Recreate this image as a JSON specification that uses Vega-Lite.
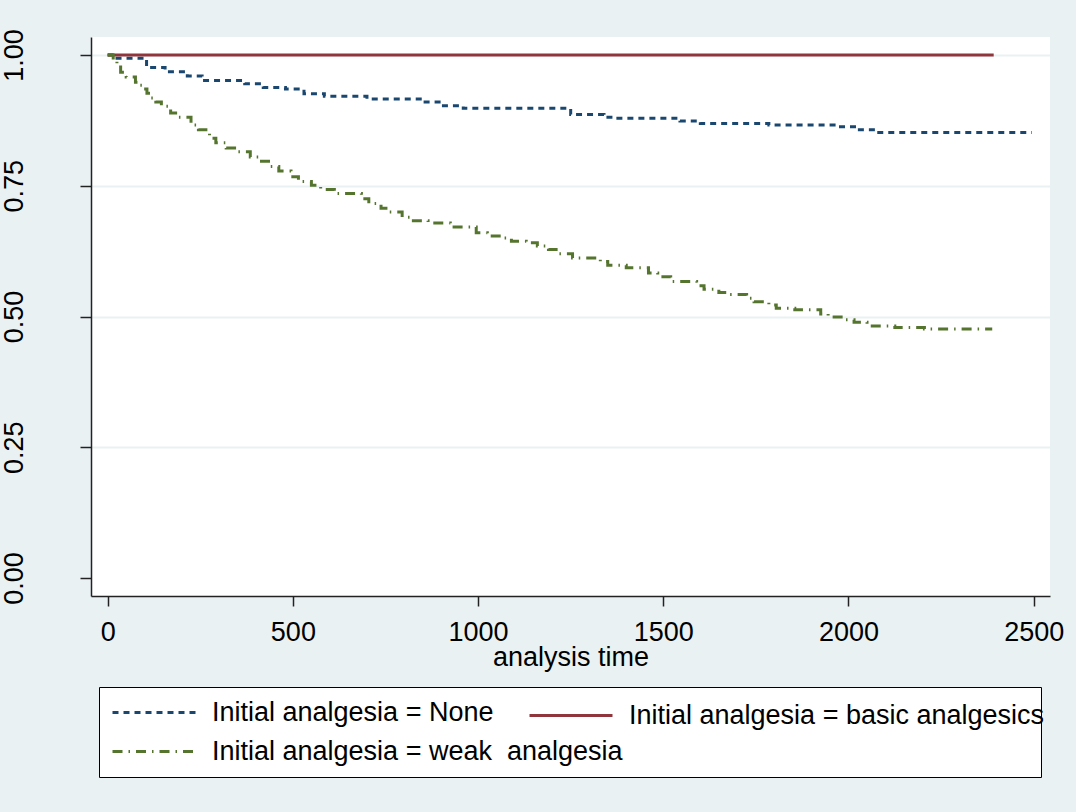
{
  "$schema": "https://vega.github.io/schema/vega-lite/v6.json",
  "width": 959,
  "height": 559,
  "autosize": {"type": "none"},
  "padding": {"left": 91, "top": 37, "right": 26, "bottom": 216},
  "background": "#EAF1F3",
  "config": {
    "view": {"fill": "white", "stroke": null},
    "font": "Liberation Sans"
  },
  "data": {
    "values": [
      {"group": "Initial analgesia = None", "time": 0, "survival": 1.0},
      {"group": "Initial analgesia = None", "time": 20, "survival": 0.994},
      {"group": "Initial analgesia = None", "time": 105, "survival": 0.976},
      {"group": "Initial analgesia = None", "time": 155, "survival": 0.968},
      {"group": "Initial analgesia = None", "time": 215, "survival": 0.96},
      {"group": "Initial analgesia = None", "time": 255, "survival": 0.951},
      {"group": "Initial analgesia = None", "time": 370, "survival": 0.945},
      {"group": "Initial analgesia = None", "time": 420, "survival": 0.938},
      {"group": "Initial analgesia = None", "time": 480, "survival": 0.935},
      {"group": "Initial analgesia = None", "time": 530, "survival": 0.926},
      {"group": "Initial analgesia = None", "time": 585, "survival": 0.921},
      {"group": "Initial analgesia = None", "time": 700, "survival": 0.916},
      {"group": "Initial analgesia = None", "time": 850, "survival": 0.91},
      {"group": "Initial analgesia = None", "time": 900, "survival": 0.903},
      {"group": "Initial analgesia = None", "time": 960, "survival": 0.898},
      {"group": "Initial analgesia = None", "time": 1250, "survival": 0.886},
      {"group": "Initial analgesia = None", "time": 1340, "survival": 0.881},
      {"group": "Initial analgesia = None", "time": 1365, "survival": 0.879},
      {"group": "Initial analgesia = None", "time": 1545, "survival": 0.874},
      {"group": "Initial analgesia = None", "time": 1600, "survival": 0.869},
      {"group": "Initial analgesia = None", "time": 1785, "survival": 0.866},
      {"group": "Initial analgesia = None", "time": 1970, "survival": 0.863},
      {"group": "Initial analgesia = None", "time": 2025, "survival": 0.857},
      {"group": "Initial analgesia = None", "time": 2075, "survival": 0.852},
      {"group": "Initial analgesia = None", "time": 2495, "survival": 0.852},

      {"group": "Initial analgesia = basic analgesics", "time": 0, "survival": 1.0},
      {"group": "Initial analgesia = basic analgesics", "time": 2392, "survival": 1.0},

      {"group": "Initial analgesia = weak\u00a0 analgesia", "time": 0, "survival": 1.0},
      {"group": "Initial analgesia = weak\u00a0 analgesia", "time": 15, "survival": 0.99},
      {"group": "Initial analgesia = weak\u00a0 analgesia", "time": 25, "survival": 0.98},
      {"group": "Initial analgesia = weak\u00a0 analgesia", "time": 35, "survival": 0.967},
      {"group": "Initial analgesia = weak\u00a0 analgesia", "time": 50, "survival": 0.958},
      {"group": "Initial analgesia = weak\u00a0 analgesia", "time": 75, "survival": 0.948},
      {"group": "Initial analgesia = weak\u00a0 analgesia", "time": 85, "survival": 0.942},
      {"group": "Initial analgesia = weak\u00a0 analgesia", "time": 98, "survival": 0.935},
      {"group": "Initial analgesia = weak\u00a0 analgesia", "time": 106, "survival": 0.927},
      {"group": "Initial analgesia = weak\u00a0 analgesia", "time": 115, "survival": 0.918},
      {"group": "Initial analgesia = weak\u00a0 analgesia", "time": 130, "survival": 0.91},
      {"group": "Initial analgesia = weak\u00a0 analgesia", "time": 145, "survival": 0.902},
      {"group": "Initial analgesia = weak\u00a0 analgesia", "time": 170, "survival": 0.889},
      {"group": "Initial analgesia = weak\u00a0 analgesia", "time": 190, "survival": 0.881},
      {"group": "Initial analgesia = weak\u00a0 analgesia", "time": 225, "survival": 0.866},
      {"group": "Initial analgesia = weak\u00a0 analgesia", "time": 245, "survival": 0.857},
      {"group": "Initial analgesia = weak\u00a0 analgesia", "time": 275, "survival": 0.841},
      {"group": "Initial analgesia = weak\u00a0 analgesia", "time": 292, "survival": 0.832},
      {"group": "Initial analgesia = weak\u00a0 analgesia", "time": 320, "survival": 0.822},
      {"group": "Initial analgesia = weak\u00a0 analgesia", "time": 350, "survival": 0.815},
      {"group": "Initial analgesia = weak\u00a0 analgesia", "time": 385, "survival": 0.805},
      {"group": "Initial analgesia = weak\u00a0 analgesia", "time": 410, "survival": 0.797},
      {"group": "Initial analgesia = weak\u00a0 analgesia", "time": 440, "survival": 0.787},
      {"group": "Initial analgesia = weak\u00a0 analgesia", "time": 462, "survival": 0.778},
      {"group": "Initial analgesia = weak\u00a0 analgesia", "time": 495, "survival": 0.767},
      {"group": "Initial analgesia = weak\u00a0 analgesia", "time": 515, "survival": 0.758},
      {"group": "Initial analgesia = weak\u00a0 analgesia", "time": 550, "survival": 0.751},
      {"group": "Initial analgesia = weak\u00a0 analgesia", "time": 575, "survival": 0.743},
      {"group": "Initial analgesia = weak\u00a0 analgesia", "time": 612, "survival": 0.735},
      {"group": "Initial analgesia = weak\u00a0 analgesia", "time": 685, "survival": 0.725},
      {"group": "Initial analgesia = weak\u00a0 analgesia", "time": 705, "survival": 0.716},
      {"group": "Initial analgesia = weak\u00a0 analgesia", "time": 738, "survival": 0.707},
      {"group": "Initial analgesia = weak\u00a0 analgesia", "time": 760, "survival": 0.7},
      {"group": "Initial analgesia = weak\u00a0 analgesia", "time": 795, "survival": 0.69},
      {"group": "Initial analgesia = weak\u00a0 analgesia", "time": 815, "survival": 0.683},
      {"group": "Initial analgesia = weak\u00a0 analgesia", "time": 865, "survival": 0.679},
      {"group": "Initial analgesia = weak\u00a0 analgesia", "time": 925, "survival": 0.671},
      {"group": "Initial analgesia = weak\u00a0 analgesia", "time": 995, "survival": 0.66},
      {"group": "Initial analgesia = weak\u00a0 analgesia", "time": 1025, "survival": 0.654},
      {"group": "Initial analgesia = weak\u00a0 analgesia", "time": 1065, "survival": 0.65},
      {"group": "Initial analgesia = weak\u00a0 analgesia", "time": 1090, "survival": 0.644},
      {"group": "Initial analgesia = weak\u00a0 analgesia", "time": 1130, "survival": 0.641},
      {"group": "Initial analgesia = weak\u00a0 analgesia", "time": 1160, "survival": 0.635},
      {"group": "Initial analgesia = weak\u00a0 analgesia", "time": 1190, "survival": 0.628},
      {"group": "Initial analgesia = weak\u00a0 analgesia", "time": 1215, "survival": 0.62},
      {"group": "Initial analgesia = weak\u00a0 analgesia", "time": 1255, "survival": 0.612},
      {"group": "Initial analgesia = weak\u00a0 analgesia", "time": 1330, "survival": 0.605},
      {"group": "Initial analgesia = weak\u00a0 analgesia", "time": 1350, "survival": 0.598},
      {"group": "Initial analgesia = weak\u00a0 analgesia", "time": 1400, "survival": 0.593},
      {"group": "Initial analgesia = weak\u00a0 analgesia", "time": 1460, "survival": 0.583},
      {"group": "Initial analgesia = weak\u00a0 analgesia", "time": 1485, "survival": 0.576},
      {"group": "Initial analgesia = weak\u00a0 analgesia", "time": 1520, "survival": 0.567},
      {"group": "Initial analgesia = weak\u00a0 analgesia", "time": 1590, "survival": 0.559},
      {"group": "Initial analgesia = weak\u00a0 analgesia", "time": 1610, "survival": 0.552},
      {"group": "Initial analgesia = weak\u00a0 analgesia", "time": 1650, "survival": 0.546},
      {"group": "Initial analgesia = weak\u00a0 analgesia", "time": 1680, "survival": 0.542},
      {"group": "Initial analgesia = weak\u00a0 analgesia", "time": 1725, "survival": 0.535},
      {"group": "Initial analgesia = weak\u00a0 analgesia", "time": 1745, "survival": 0.528},
      {"group": "Initial analgesia = weak\u00a0 analgesia", "time": 1785, "survival": 0.522},
      {"group": "Initial analgesia = weak\u00a0 analgesia", "time": 1805, "survival": 0.516},
      {"group": "Initial analgesia = weak\u00a0 analgesia", "time": 1855, "survival": 0.513},
      {"group": "Initial analgesia = weak\u00a0 analgesia", "time": 1925, "survival": 0.505},
      {"group": "Initial analgesia = weak\u00a0 analgesia", "time": 1945, "survival": 0.499},
      {"group": "Initial analgesia = weak\u00a0 analgesia", "time": 1990, "survival": 0.494},
      {"group": "Initial analgesia = weak\u00a0 analgesia", "time": 2015, "survival": 0.489},
      {"group": "Initial analgesia = weak\u00a0 analgesia", "time": 2050, "survival": 0.482},
      {"group": "Initial analgesia = weak\u00a0 analgesia", "time": 2125, "survival": 0.479},
      {"group": "Initial analgesia = weak\u00a0 analgesia", "time": 2205, "survival": 0.476},
      {"group": "Initial analgesia = weak\u00a0 analgesia", "time": 2388, "survival": 0.476}
    ]
  },
  "mark": {"type": "line", "interpolate": "step-after", "strokeWidth": 3},
  "encoding": {
    "x": {
      "field": "time",
      "type": "quantitative",
      "scale": {"domain": [-45, 2544], "nice": false, "zero": false},
      "axis": {
        "values": [0, 500, 1000, 1500, 2000, 2500],
        "format": "d",
        "title": "analysis time",
        "grid": false,
        "domainColor": "#222222",
        "domainWidth": 1.5,
        "tickColor": "#222222",
        "tickWidth": 1.5,
        "tickSize": 10,
        "labelFontSize": 27,
        "labelColor": "#000000",
        "labelBaseline": "alphabetic",
        "labelPadding": 34,
        "labelFlush": false,
        "labelOverlap": false,
        "titleFontSize": 27,
        "titleFontWeight": "normal",
        "titleColor": "#000000",
        "titleBaseline": "alphabetic",
        "titleY": 69
      }
    },
    "y": {
      "field": "survival",
      "type": "quantitative",
      "scale": {"domain": [-0.0344, 1.0344], "nice": false, "zero": false},
      "axis": {
        "values": [0, 0.25, 0.5, 0.75, 1],
        "format": ".2f",
        "title": null,
        "grid": true,
        "gridColor": "#EAF1F3",
        "gridWidth": 2,
        "gridOpacity": {"condition": {"test": "datum.value === 0", "value": 0}, "value": 1},
        "domainColor": "#222222",
        "domainWidth": 1.5,
        "tickColor": "#222222",
        "tickWidth": 1.5,
        "tickSize": 11,
        "labelAngle": -90,
        "labelAlign": "center",
        "labelBaseline": "alphabetic",
        "labelPadding": 58,
        "labelFontSize": 27,
        "labelColor": "#000000",
        "labelFlush": false,
        "labelOverlap": false
      }
    },
    "color": {
      "field": "group",
      "type": "nominal",
      "scale": {
        "domain": ["Initial analgesia = None", "Initial analgesia = basic analgesics", "Initial analgesia = weak\u00a0 analgesia"],
        "range": ["#1A476F", "#90353B", "#55752F"]
      },
      "legend": {
        "values": ["Initial analgesia = None", "Initial analgesia = weak\u00a0 analgesia"],
        "title": "\u00a0",
        "titleOrient": "right",
        "titlePadding": 406,
        "titleFontSize": 27,
        "orient": "none",
        "legendX": 8,
        "legendY": 650,
        "direction": "vertical",
        "rowPadding": 11,
        "padding": 12,
        "strokeColor": "#000000",
        "fillColor": "white",
        "symbolType": "stroke",
        "symbolSize": 6889,
        "symbolStrokeWidth": 3,
        "clipHeight": 27,
        "labelFontSize": 27,
        "labelColor": "#000000",
        "labelOffset": 15,
        "labelLimit": 1000,
        "zindex": 0,
        "encode": {
          "symbols": {"update": {"strokeDash": {"scale": "strokeDash", "field": "value"}}}
        }
      }
    },
    "strokeDash": {
      "field": "group",
      "type": "nominal",
      "scale": {
        "domain": ["Initial analgesia = basic analgesics", "Initial analgesia = None", "Initial analgesia = weak\u00a0 analgesia"],
        "range": [[1, 0], [6, 5], [10, 6, 1.5, 6]]
      },
      "legend": {
        "values": ["Initial analgesia = basic analgesics"],
        "title": null,
        "orient": "none",
        "legendX": 437,
        "legendY": 665,
        "direction": "vertical",
        "padding": 0,
        "symbolType": "stroke",
        "symbolSize": 6889,
        "symbolStrokeWidth": 3,
        "clipHeight": 27,
        "labelFontSize": 27,
        "labelColor": "#000000",
        "labelOffset": 15,
        "labelLimit": 1000,
        "zindex": 1,
        "encode": {
          "symbols": {"update": {"stroke": {"scale": "color", "field": "value"}}}
        }
      }
    }
  }
}
